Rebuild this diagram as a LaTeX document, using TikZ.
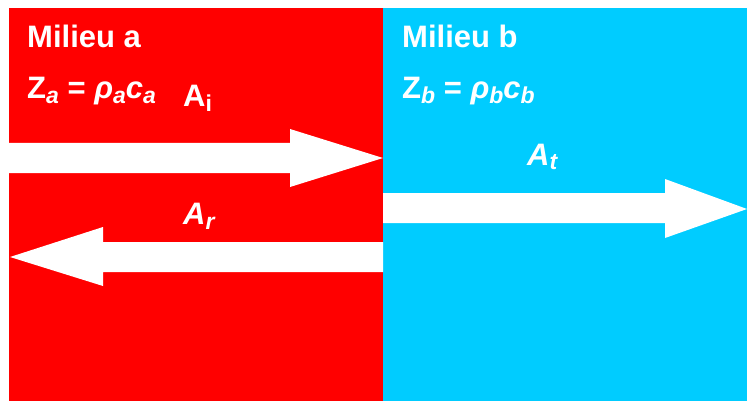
\documentclass[tikz,border=0pt]{standalone}
\usepackage{fontspec}
\setmainfont{Liberation Sans}
\usepackage{xcolor}
\definecolor{medred}{RGB}{255,0,0}
\definecolor{medcyan}{RGB}{0,204,255}
\usepackage{tikz}
\usetikzlibrary{positioning}

\newcommand{\lowsub}[1]{\raisebox{-5pt}{\fontsize{23}{25}\selectfont #1}}

\tikzset{
  bigtext/.style={text=white, font=\fontsize{31}{36}\selectfont\bfseries, inner sep=0pt, anchor=base west},
  wave/.style={fill=white, draw=none}
}

\begin{document}
\begin{tikzpicture}[x=1pt, y=-1pt]
  \useasboundingbox (0,0) rectangle (747,401);
  % the two media
  \fill[medred]  (8.5,8) rectangle (383,401);
  \fill[medcyan] (383,8) rectangle (747,401);

  % incident wave
  \fill[wave] (8.5,143) -- (290,143) -- (290,129) -- (383,158)
              -- (290,187) -- (290,173) -- (8.5,173) -- cycle;
  % reflected wave
  \fill[wave] (383,242) -- (103,242) -- (103,227) -- (10,257)
              -- (103,286) -- (103,272) -- (383,272) -- cycle;
  % transmitted wave
  \fill[wave] (383,193) -- (665,193) -- (665,179) -- (747,209)
              -- (665,238) -- (665,223) -- (383,223) -- cycle;

  \node[bigtext] (milieua) at (27,48) {Milieu a};
  \node[bigtext] (impa) at (27,99)
        {Z\lowsub{\itshape a} = {\itshape ρ\lowsub{a}c\lowsub{a}}};
  \node[bigtext] (ai) at (183,107) {A\lowsub{i}};
  \node[bigtext] (ar) at (183,224) {\itshape A\lowsub{r}};

  \node[bigtext] (milieub) at (402,48) {Milieu b};
  \node[bigtext] (impb) at (402,99)
        {Z\lowsub{\itshape b} = {\itshape ρ\lowsub{b}c\lowsub{b}}};
  \node[bigtext] (at) at (527,165) {\itshape A\lowsub{t}};
\end{tikzpicture}
\end{document}
